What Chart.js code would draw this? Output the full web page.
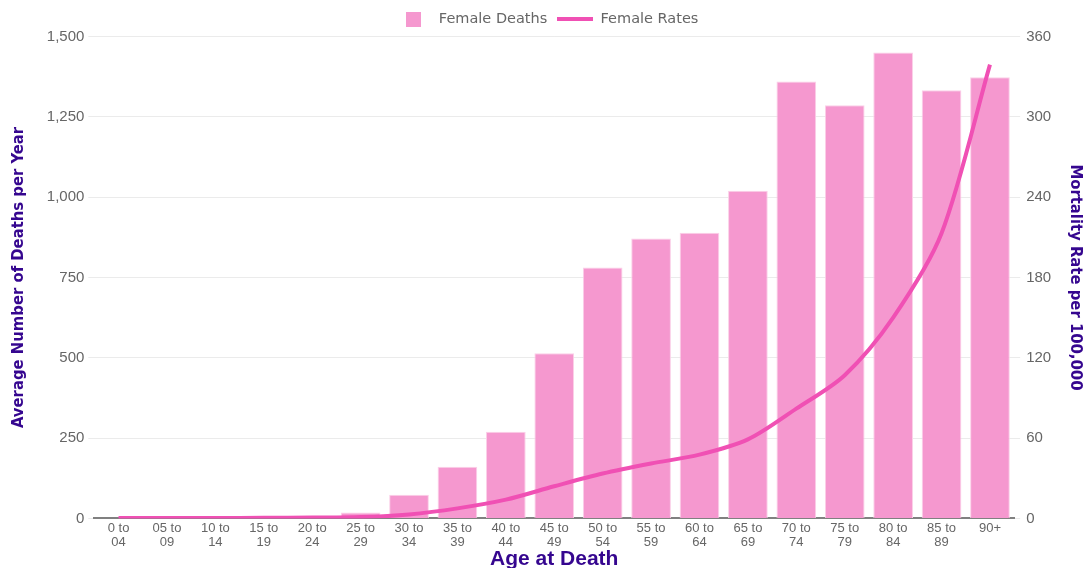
<!DOCTYPE html>
<html>
<head>
<meta charset="utf-8">
<script src="https://cdn.jsdelivr.net/npm/chart.js@4"></script>
<style>
  html, body { margin: 0; padding: 0; background: #fff; overflow: hidden; }
  #wrap { width: 1085px; height: 570px; position: relative; }
</style>
</head>
<body>
<div id="wrap"><canvas id="grafico"></canvas></div>
<script>
// faixas etárias
const faixas = [
  ["0 to", "04"], ["05 to", "09"], ["10 to", "14"], ["15 to", "19"], ["20 to", "24"],
  ["25 to", "29"], ["30 to", "34"], ["35 to", "39"], ["40 to", "44"], ["45 to", "49"],
  ["50 to", "54"], ["55 to", "59"], ["60 to", "64"], ["65 to", "69"], ["70 to", "74"],
  ["75 to", "79"], ["80 to", "84"], ["85 to", "89"], ["90+"]
];

// óbitos médios por ano (barras)
const obitos = [0, 0, 0, 1, 2, 18, 74, 161, 270, 514, 781, 871, 889, 1020, 1360, 1286, 1450, 1333, 1373];

// taxa por 100.000 (linha)
const taxas = [0.3, 0.3, 0.3, 0.4, 0.6, 1, 3, 7.5, 14, 24, 33.5, 41, 47.6, 59, 82, 107, 150, 213, 339];

const corBarra = "#f598cf";
const corLinha = "#f050b4";
const corTitulo = "#35068f";
const fonteEstreita = "'DejaVu Sans Condensed', 'Liberation Sans Narrow', 'Arial Narrow', sans-serif";

// ícones da legenda (quadrado e traço)
function iconeQuadrado() {
  const c = document.createElement("canvas");
  c.width = 15;
  c.height = 15;
  const g = c.getContext("2d");
  g.fillStyle = corBarra;
  g.fillRect(0, 0, 15, 15);
  return c;
}
function iconeLinha() {
  const c = document.createElement("canvas");
  c.width = 36;
  c.height = 4;
  const g = c.getContext("2d");
  g.fillStyle = corLinha;
  g.fillRect(0, 0, 36, 4);
  return c;
}

new Chart(document.getElementById("grafico"), {
  data: {
    labels: faixas,
    datasets: [
      {
        type: "line",
        label: "Female Rates",
        data: taxas,
        yAxisID: "y2",
        borderColor: corLinha,
        backgroundColor: corLinha,
        borderWidth: 4,
        pointRadius: 0,
        pointStyle: iconeLinha(),
        tension: 0.3,
        order: 0,
      },
      {
        type: "bar",
        label: "Female Deaths",
        data: obitos,
        yAxisID: "y",
        backgroundColor: corBarra,
        borderColor: "#fbd0e8",
        borderWidth: 1,
        pointStyle: iconeQuadrado(),
        categoryPercentage: 0.82,
        barPercentage: 1,
        order: 1,
      },
    ],
  },
  options: {
    responsive: true,
    maintainAspectRatio: false,
    animation: false,
    layout: { padding: { top: 2, left: 9, right: 0, bottom: 0 } },
    plugins: {
      legend: {
        position: "top",
        reverse: true,
        labels: {
          usePointStyle: true,
          pointStyleWidth: 36,
          padding: 10,
          color: "#666",
          font: { family: "DejaVu Sans", size: 14.5 },
        },
      },
      tooltip: { enabled: false },
    },
    scales: {
      x: {
        grid: { display: false, drawTicks: false },
        border: { color: "#808080", width: 2 },
        ticks: {
          color: "#666",
          font: { family: "Liberation Sans", size: 13, lineHeight: 1.1 },
          maxRotation: 0,
          autoSkip: false,
          padding: 3,
        },
        title: {
          display: true,
          text: "Age at Death",
          color: corTitulo,
          font: { family: "Liberation Sans", size: 21, weight: "bold", lineHeight: 1 },
          padding: { top: -4, bottom: 0 },
        },
      },
      y: {
        position: "left",
        min: 0,
        max: 1500,
        ticks: {
          stepSize: 250,
          color: "#666",
          font: { family: "Liberation Sans", size: 15 },
          padding: 4,
        },
        grid: { color: "#ebebeb", tickLength: 6 },
        border: { display: false },
        title: {
          display: true,
          text: "Average Number of Deaths per Year",
          color: corTitulo,
          font: { family: fonteEstreita, size: 16.5, weight: "bold" },
          padding: { top: 0, bottom: 14 },
        },
      },
      y2: {
        position: "right",
        min: 0,
        max: 360,
        ticks: {
          stepSize: 60,
          color: "#666",
          font: { family: "Liberation Sans", size: 15 },
          padding: 6,
        },
        grid: { drawOnChartArea: false, color: "#ebebeb", tickLength: 6 },
        border: { display: false },
        title: {
          display: true,
          text: "Mortality Rate per 100,000",
          color: corTitulo,
          font: { family: fonteEstreita, size: 16.5, weight: "bold" },
          padding: { top: 0, bottom: 8 },
        },
      },
    },
  },
});
</script>
</body>
</html>
